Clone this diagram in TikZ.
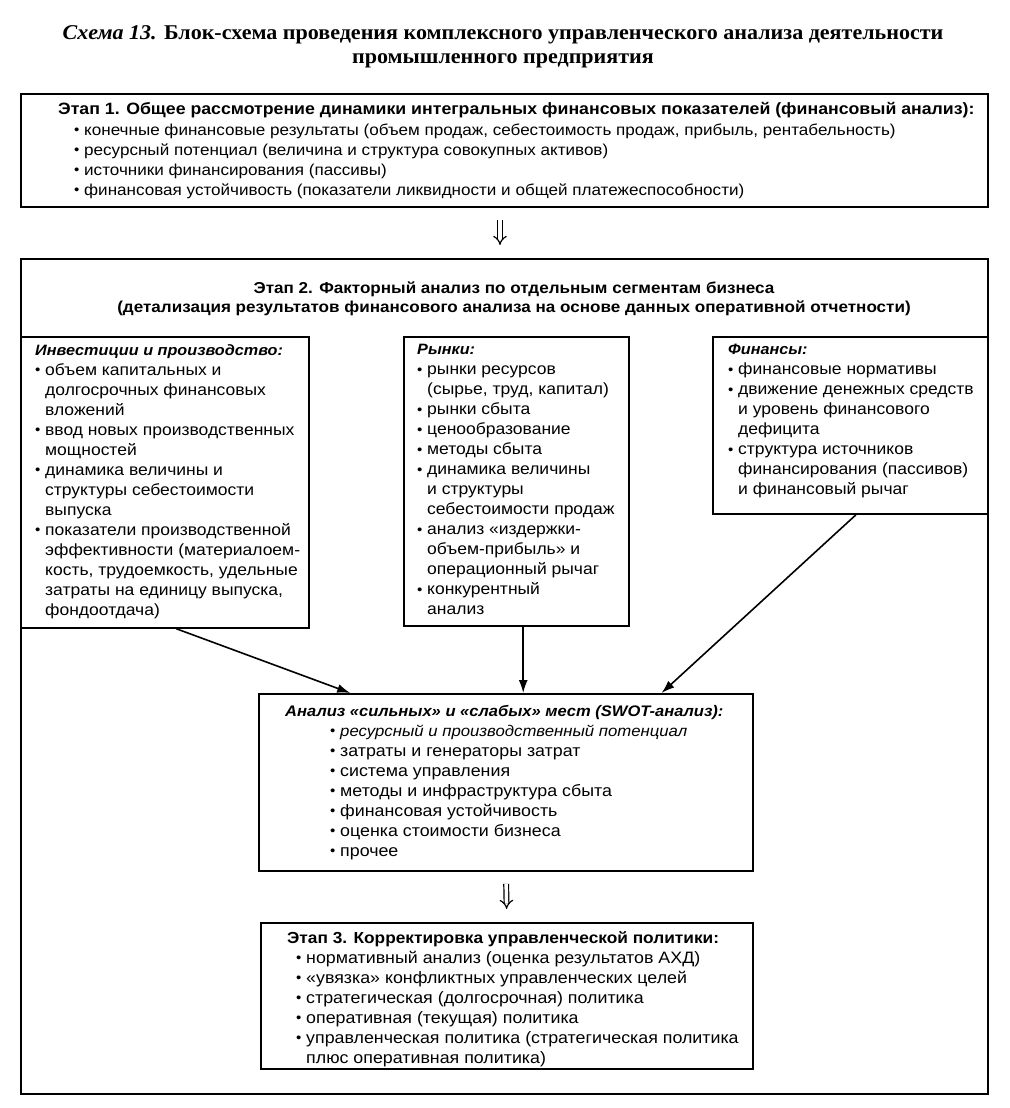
\documentclass[tikz,border=0pt]{standalone}
\usepackage{fontspec}
\setmainfont[FakeStretch=1.08]{Liberation Sans}
\newfontfamily\titlefont[FakeStretch=1.05]{Liberation Serif}
\usetikzlibrary{arrows.meta, calc}
\tikzset{
  %
  frame/.style={draw=black, line width=1.8pt, anchor=north west, inner sep=0pt},
  txt/.style={anchor=north west, inner sep=0pt, align=left,
              font=\fontsize{16.2}{20}\selectfont},
  ttl/.style={anchor=center, inner sep=0pt, align=center,
              font=\titlefont\bfseries\fontsize{21}{24}\selectfont},
  %
  flow/.style={draw=black, line width=1.6pt, -{Latex[length=13pt, width=9pt]}},
  stepflow/.style={draw=black, line width=1.2pt, double, double distance=3.5pt,
                   -{Implies}, shorten <=12pt, shorten >=13pt},
}
\newcommand{\hdrfont}{\bfseries\itshape\fontsize{15}{20}\selectfont}
\newcommand{\itm}{\makebox[10pt][l]{\raisebox{0.5pt}{\fontsize{14}{14}\selectfont•}}}
\newcommand{\cnt}{\hspace*{10pt}}

\begin{document}
\begin{tikzpicture}[x=1pt, y=-1pt]
  \useasboundingbox (0,0) rectangle (1009,1108);

  % ---- title ------------------------------------------------------------
  \node[ttl] (title) at (503,47)
    {\textit{Схема 13.} Блок-схема проведения комплексного управленческого анализа деятельности\\
     промышленного предприятия};

  % ---- stage 1 ----------------------------------------------------------
  \node[frame, minimum width=967, minimum height=113] (s1) at (20,93) {};
  \node[txt, font=\fontsize{15.8}{20}\selectfont] (s1t) at (58,102)
    {{\fontsize{16.4}{20}\selectfont\bfseries Этап 1. Общее рассмотрение динамики интегральных финансовых показателей (финансовый анализ):}\\[1pt]
     \hspace*{16pt}\itm конечные финансовые результаты (объем продаж, себестоимость продаж, прибыль, рентабельность)\\
     \hspace*{16pt}\itm ресурсный потенциал (величина и структура совокупных активов)\\
     \hspace*{16pt}\itm источники финансирования (пассивы)\\
     \hspace*{16pt}\itm финансовая устойчивость (показатели ликвидности и общей платежеспособности)};

  % ---- stage 2 ----------------------------------------------------------
  \node[frame, minimum width=967, minimum height=835] (s2) at (20,258) {};
  \node[txt, anchor=center, align=center, font=\bfseries\fontsize{15.8}{19}\selectfont]
    (s2t) at (514,299)
    {Этап 2. Факторный анализ по отдельным сегментам бизнеса\\
     (детализация результатов финансового анализа на основе данных оперативной отчетности)};

  % three segments
  \node[frame, minimum width=288, minimum height=291] (inv) at (20,336) {};
  \node[txt] (invt) at (35,344)
    {{\hdrfont Инвестиции и производство:}\\
     \itm объем капитальных и\\
     \cnt долгосрочных финансовых\\
     \cnt вложений\\
     \itm ввод новых производственных\\
     \cnt мощностей\\
     \itm динамика величины и\\
     \cnt структуры себестоимости\\
     \cnt выпуска\\
     \itm показатели производственной\\
     \cnt эффективности (материалоем-\\
     \cnt кость, трудоемкость, удельные\\
     \cnt затраты на единицу выпуска,\\
     \cnt фондоотдача)};

  \node[frame, minimum width=225, minimum height=289] (mkt) at (403,336) {};
  \node[txt] (mktt) at (417,344)
    {{\hdrfont Рынки:}\\
     \itm рынки ресурсов\\
     \cnt (сырье, труд, капитал)\\
     \itm рынки сбыта\\
     \itm ценообразование\\
     \itm методы сбыта\\
     \itm динамика величины\\
     \cnt и структуры\\
     \cnt себестоимости продаж\\
     \itm анализ «издержки-\\
     \cnt объем-прибыль» и\\
     \cnt операционный рычаг\\
     \itm конкурентный\\
     \cnt анализ};

  \node[frame, minimum width=275, minimum height=177] (fin) at (712,336) {};
  \node[txt] (fint) at (728,344)
    {{\hdrfont Финансы:}\\
     \itm финансовые нормативы\\
     \itm движение денежных средств\\
     \cnt и уровень финансового\\
     \cnt дефицита\\
     \itm структура источников\\
     \cnt финансирования (пассивов)\\
     \cnt и финансовый рычаг};

  % ---- swot -------------------------------------------------------------
  \node[frame, minimum width=494, minimum height=177] (swot) at (258,693) {};
  \node[txt, font=\fontsize{16.5}{20}\selectfont] (swott) at (285,705)
    {{\hdrfont\fontsize{15.3}{20}\selectfont Анализ «сильных» и «слабых» мест (SWOT-анализ):}\\
     \hspace*{45pt}\itm {\itshape\fontsize{15.5}{20}\selectfont ресурсный и производственный потенциал}\\
     \hspace*{45pt}\itm затраты и генераторы затрат\\
     \hspace*{45pt}\itm система управления\\
     \hspace*{45pt}\itm методы и инфраструктура сбыта\\
     \hspace*{45pt}\itm финансовая устойчивость\\
     \hspace*{45pt}\itm оценка стоимости бизнеса\\
     \hspace*{45pt}\itm прочее};

  % ---- stage 3 ----------------------------------------------------------
  \node[frame, minimum width=492, minimum height=146] (s3) at (260,922) {};
  \node[txt, font=\fontsize{16.5}{20}\selectfont] (s3t) at (287,931)
    {{\bfseries\fontsize{16}{20}\selectfont Этап 3. Корректировка управленческой политики:}\\
     \hspace*{9pt}\itm нормативный анализ (оценка результатов АХД)\\
     \hspace*{9pt}\itm «увязка» конфликтных управленческих целей\\
     \hspace*{9pt}\itm стратегическая (долгосрочная) политика\\
     \hspace*{9pt}\itm оперативная (текущая) политика\\
     \hspace*{9pt}\itm управленческая политика (стратегическая политика\\
     \hspace*{9pt}\cnt плюс оперативная политика)};

  % ---- connectors -------------------------------------------------------
  \draw[stepflow] (s1.south -| 500,0) -- (s2.north -| 500,0);
  \draw[stepflow] (swot.south) -- (s3.north);

  \draw[flow] ($(inv.south west)!0.54!(inv.south east)$)
           -- ($(swot.north west)!0.186!(swot.north east)$);
  \coordinate (mktout) at ($(mkt.south west)!0.53!(mkt.south east)$);
  \draw[flow] (mktout) -- (mktout |- swot.north);
  \draw[flow] ($(fin.south west)!0.52!(fin.south east)$)
           -- ($(swot.north west)!0.814!(swot.north east)$);

\end{tikzpicture}
\end{document}
